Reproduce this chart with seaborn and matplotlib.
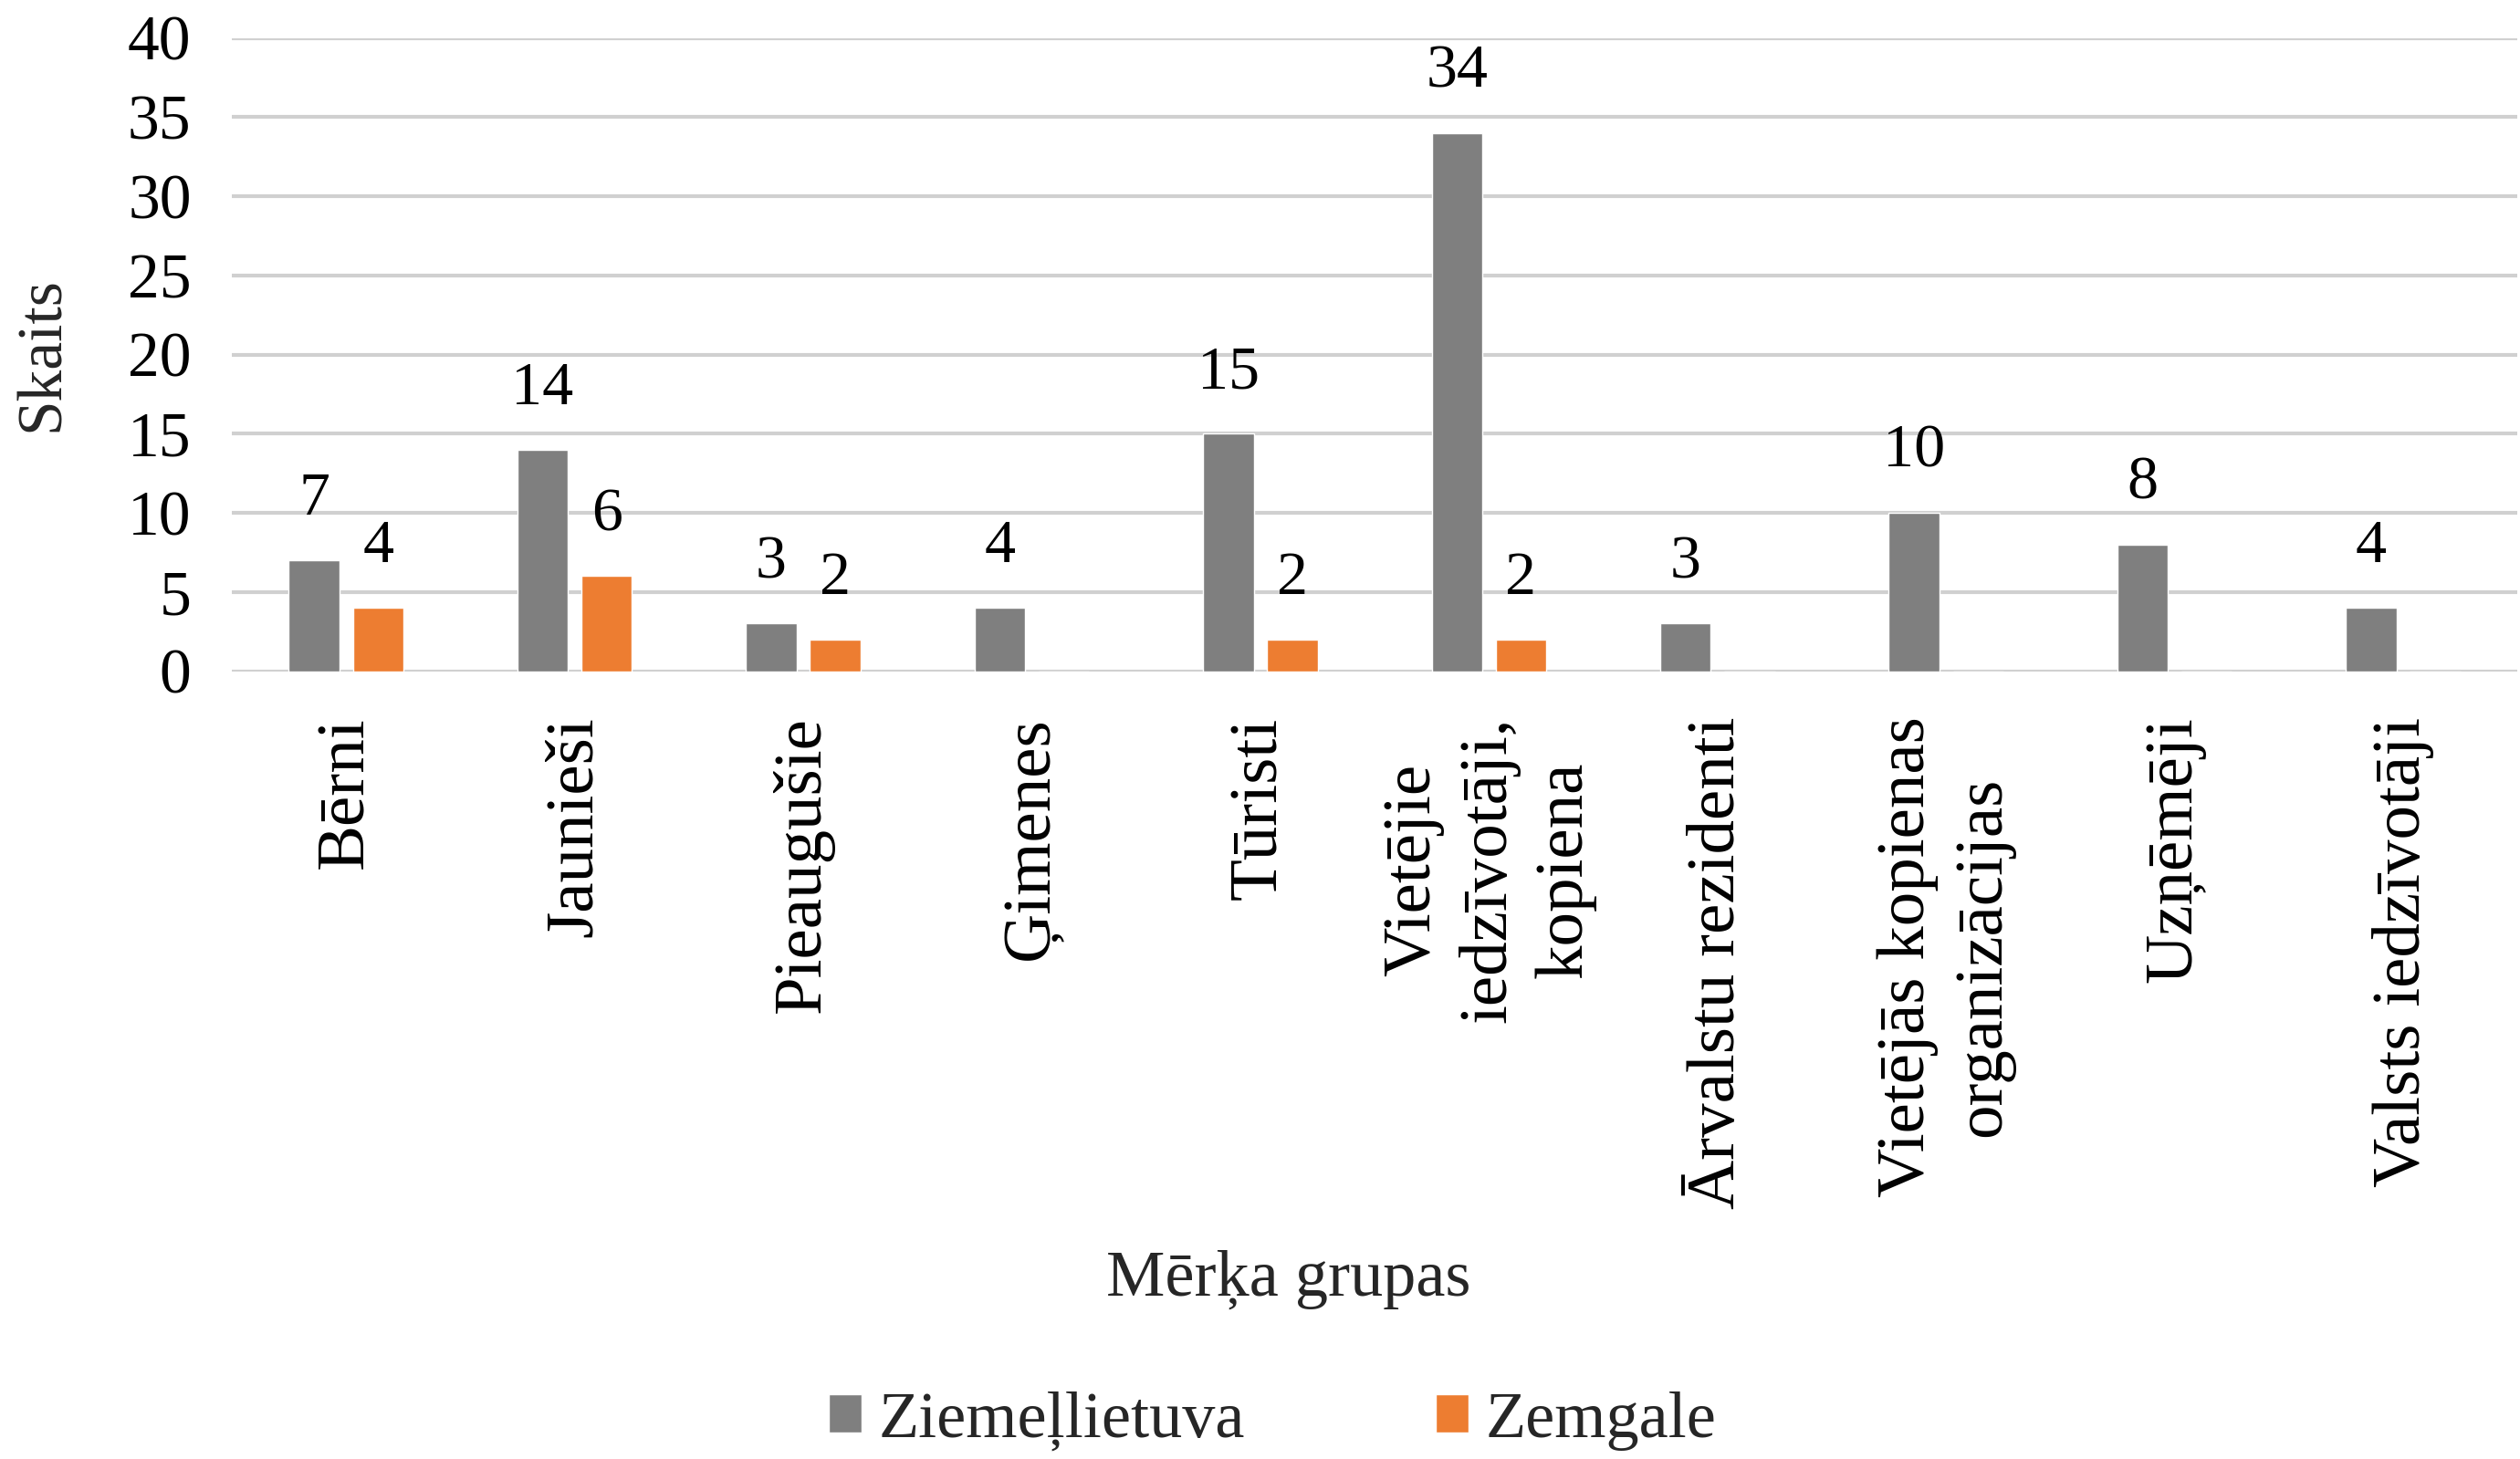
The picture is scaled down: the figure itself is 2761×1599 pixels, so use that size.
import numpy as np
import pandas as pd
import seaborn as sns
import matplotlib.pyplot as plt

categories = ["Bērni", "Jaunieši", "Pieaugušie", "Ģimenes", "Tūristi",
              "Vietējie\niedzīvotāji,\nkopiena", "Ārvalstu rezidenti",
              "Vietējās kopienas\norganizācijas", "Uzņēmēji", "Valsts iedzīvotāji"]
ziemellietuva = [7, 14, 3, 4, 15, 34, 3, 10, 8, 4]
zemgale = [4, 6, 2, 0, 2, 2, 0, 0, 0, 0]
series = ["Ziemeļlietuva", "Zemgale"]
colors = ["#7f7f7f", "#ed7d31"]
y_ticks = [0, 5, 10, 15, 20, 25, 30, 35, 40]

df = pd.DataFrame({
    "grupa": categories * 2,
    "skaits": ziemellietuva + zemgale,
    "regions": [series[0]] * len(categories) + [series[1]] * len(categories),
})

sns.set_theme(style="white")
plt.rcParams["font.family"] = ["Liberation Serif", "DejaVu Serif"]

fig = plt.figure(figsize=(27.61, 15.99), dpi=100)
ax = fig.add_axes([0.092, 0.540, 0.907, 0.434])

sns.barplot(data=df, x="grupa", y="skaits", hue="regions", palette=colors,
            width=0.56, gap=0.21, saturation=1, ax=ax)

for cont, vals in zip(ax.containers, [ziemellietuva, zemgale]):
    ax.bar_label(cont, labels=[str(v) if v else "" for v in vals],
                 padding=26, fontsize=49, color="#000000")

ax.set_ylim(0, 40)
ax.set_xlim(-0.5, len(categories) - 0.5)
ax.set_yticks(y_ticks)
ax.set_yticklabels([str(t) for t in y_ticks], fontsize=50)
ax.set_xticks(range(len(categories)))
ax.set_xticklabels(categories, rotation=90, ha="center", va="top",
                   multialignment="center", fontsize=54, linespacing=1.3)
ax.tick_params(axis="y", length=0, pad=32, colors="#000000")
ax.tick_params(axis="x", length=0, pad=36, colors="#000000")

ax.yaxis.grid(True, color="#d0d0d0", linewidth=3)
ax.set_axisbelow(True)
ax.axhline(0, color="#cfcfcf", linewidth=3.5, zorder=0.5)
for s in ax.spines.values():
    s.set_visible(False)

ax.set_ylabel("Skaits", fontsize=50)
ax.yaxis.set_label_coords(-0.070, 0.5)
ax.set_xlabel("Mērķa grupas", fontsize=52)
ax.xaxis.set_label_coords(0.4625, -0.961)
ax.xaxis.label.set_va("center")

handles, labels = ax.get_legend_handles_labels()
ax.get_legend().remove()
fig.legend(handles, labels, loc="center", bbox_to_anchor=(0.505, 0.026),
           ncol=2, frameon=False, fontsize=52, handlelength=0.5,
           handleheight=0.5, handletextpad=0.25, columnspacing=2.9)

fig.savefig("out.png", dpi=100, facecolor="white")
